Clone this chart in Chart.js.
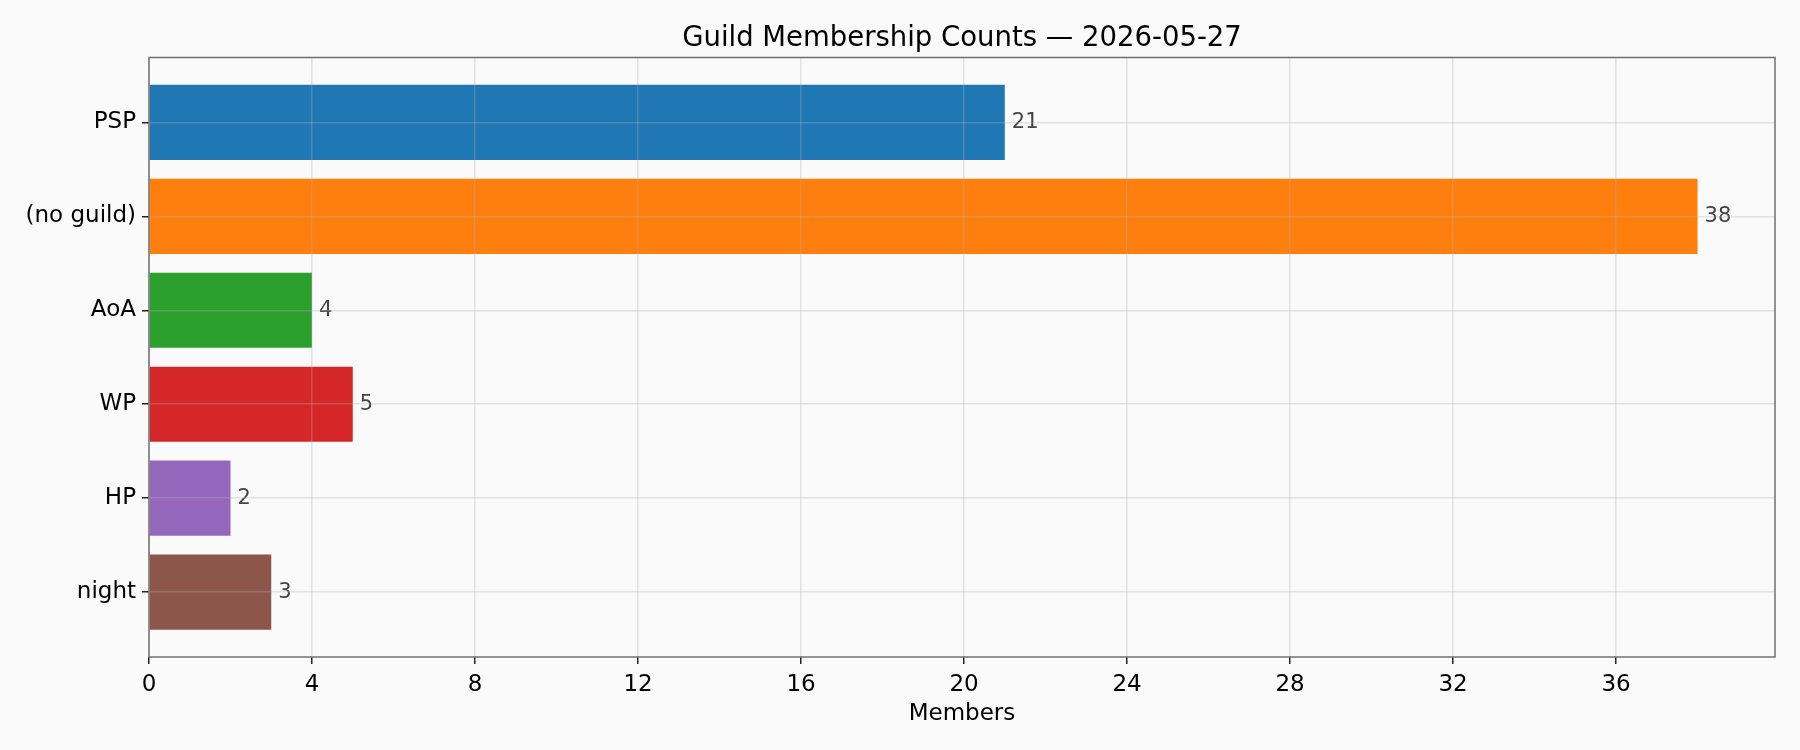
<!DOCTYPE html>
<html lang="en">
  <head>
    <meta charset="UTF-8" />
    <title>Guild Membership Counts</title>
    <script src="https://cdn.jsdelivr.net/npm/chart.js"></script>
    <style>
      html, body { margin: 0; padding: 0; background: #fafafa; }
      #chart { display: block; }
    </style>
  </head>
  <body>
    <canvas id="chart" width="1800" height="750"></canvas>

<script>
  // data
  var guilds = ["PSP", "(no guild)", "AoA", "WP", "HP", "night"];
  var members = [21, 38, 4, 5, 2, 3];
  var xTicks = [0, 4, 8, 12, 16, 20, 24, 28, 32, 36];
  var cores = ["#1f77b4", "#ff7f0e", "#2ca02c", "#d62728", "#9467bd", "#8c564b"];

  var fonte = "'DejaVu Sans', sans-serif";

  // frame round the plot + value labels next to bars
  var extras = {
    id: "extras",
    afterDatasetsDraw: function (chart) {
      var ctx = chart.ctx;
      var meta = chart.getDatasetMeta(0);
      ctx.save();
      ctx.font = "21px " + fonte;
      ctx.fillStyle = "#444";
      ctx.textAlign = "left";
      ctx.textBaseline = "middle";
      meta.data.forEach(function (bar, i) {
        ctx.fillText(String(members[i]), bar.x + 7, bar.y);
      });
      ctx.restore();
    },
    afterDraw: function (chart) {
      var a = chart.chartArea;
      var ctx = chart.ctx;
      ctx.save();
      ctx.strokeStyle = "#707070";
      ctx.lineWidth = 1.5;
      ctx.strokeRect(a.left, a.top, a.right - a.left, a.bottom - a.top);
      ctx.restore();
    }
  };

  var dados = members.map(function (v, i) { return { x: v, y: i }; });

  new Chart(document.getElementById("chart"), {
    type: "bar",
    data: {
      datasets: [{
        data: dados,
        backgroundColor: cores,
        borderWidth: 0,
        barPercentage: 0.8,
        categoryPercentage: 1.0
      }]
    },
    options: {
      indexAxis: "y",
      responsive: false,
      animation: false,
      layout: { padding: { left: 0, right: 25, top: 0, bottom: 0 } },
      plugins: {
        legend: { display: false },
        tooltip: { enabled: false },
        title: {
          display: true,
          text: "Guild Membership Counts \u2014 2026-05-27",
          fullSize: false,
          color: "#000",
          font: { family: fonte, size: 27.5, weight: "normal", lineHeight: 1.2 },
          padding: { top: 22, bottom: 2.5 }
        }
      },
      scales: {
        x: {
          type: "linear",
          position: "bottom",
          min: 0,
          max: 39.9,
          z: 1,
          afterBuildTicks: function (s) {
            s.ticks = xTicks.map(function (v) { return { value: v }; });
          },
          afterFit: function (s) { s.height = 93; },
          grid: {
            z: 1,
            color: "rgba(176,176,176,0.32)",
            lineWidth: 1.5,
            drawTicks: true,
            tickLength: 7,
            tickColor: "#222",
            tickWidth: 1.5
          },
          border: { display: false },
          ticks: {
            color: "#000",
            padding: 7,
            maxRotation: 0,
            font: { family: fonte, size: 23 }
          },
          title: {
            display: true,
            text: "Members",
            color: "#000",
            font: { family: fonte, size: 23, lineHeight: 1.2 },
            padding: { top: 0, bottom: 22 }
          }
        },
        y: {
          type: "linear",
          position: "left",
          reverse: true,
          offset: false,
          min: -0.69,
          max: 5.69,
          z: 1,
          afterBuildTicks: function (s) {
            s.ticks = guilds.map(function (g, i) { return { value: i }; });
          },
          afterFit: function (s) { s.width = 149; },
          grid: {
            z: 1,
            offset: false,
            color: "rgba(176,176,176,0.32)",
            lineWidth: 1.5,
            drawTicks: true,
            tickLength: 7,
            tickColor: "#222",
            tickWidth: 1.5
          },
          border: { display: false },
          ticks: {
            color: "#000",
            padding: 6,
            font: { family: fonte, size: 23 },
            callback: function (v) { return guilds[v]; }
          }
        }
      }
    },
    plugins: [extras]
  });
</script>
  </body>
</html>
